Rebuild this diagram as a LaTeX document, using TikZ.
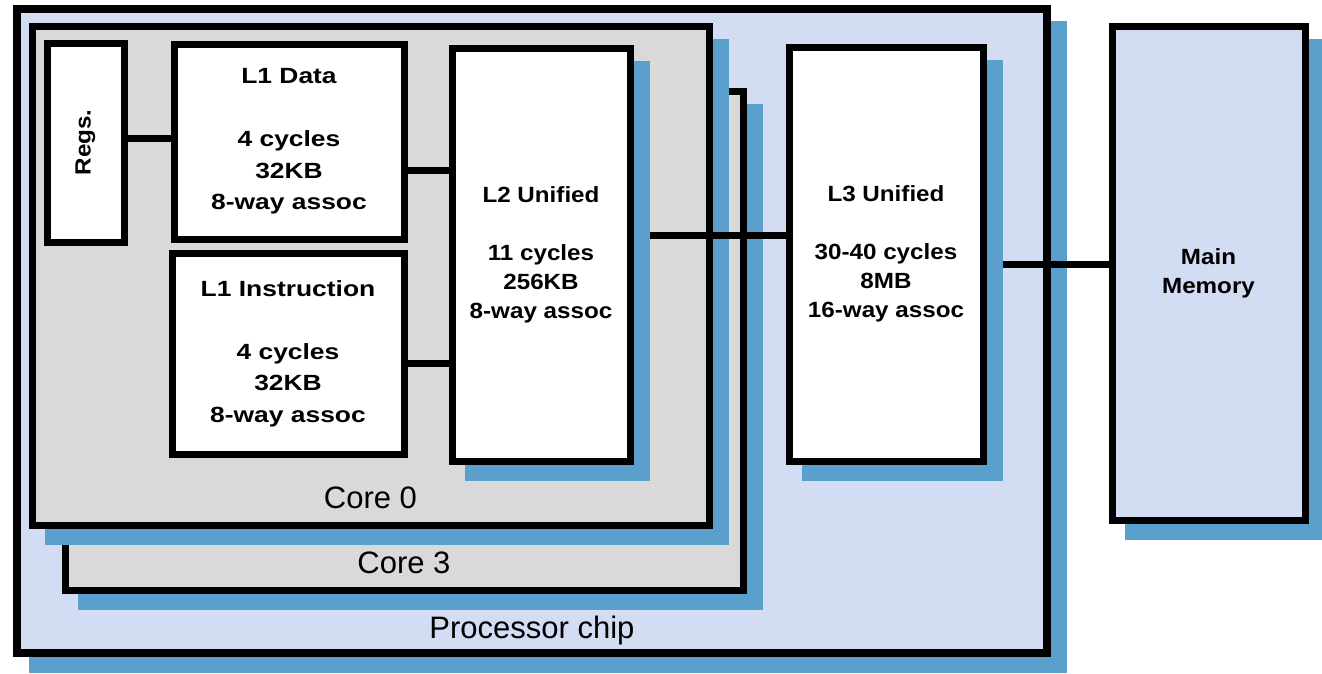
\documentclass[tikz,border=0pt]{standalone}
\usepackage{fontspec}
\setmainfont{Liberation Sans}
\newfontfamily\fa[FakeStretch=1.2]{Liberation Sans}
\newfontfamily\fb[FakeStretch=1.1]{Liberation Sans}
\usetikzlibrary{shadows}
\definecolor{chipblue}{RGB}{210,220,242}
\definecolor{shblue}{RGB}{91,160,204}
\definecolor{coregray}{RGB}{217,217,217}
\pgfdeclarelayer{back}
\pgfdeclarelayer{mid}
\pgfsetlayers{back,mid,main}
\begin{document}
\begin{tikzpicture}[x=1pt,y=-1pt,
  box/.style={draw=black, rectangle, inner sep=0pt, line width=7pt, align=center},
  shd/.style={drop shadow={shadow xshift=16pt, shadow yshift=-16pt, opacity=1, fill=shblue, draw=shblue}},
  link/.style={line width=7pt},
  ftA/.style={font=\fontsize{22}{31.5}\fa\bfseries},
  ftB/.style={font=\fontsize{22}{29}\fb\bfseries},
  lbl/.style={font=\fontsize{31}{31}\selectfont, anchor=base, inner sep=0pt}]
\useasboundingbox (0,0) rectangle (1322,673);
\begin{pgfonlayer}{back}
\fill[white] (0,0) rectangle (1322,673);
\node[box, fill=chipblue, shd, line width=8pt, minimum width=1030pt, minimum height=644pt] (chip) at (532,331) {};
\node[box, fill=coregray, shd, minimum width=678pt, minimum height=499pt] (core3) at (404,340.5) {};
\node[box, fill=coregray, shd, minimum width=677pt, minimum height=499pt] (core0) at (370.5,275.5) {};
\end{pgfonlayer}
\node[box, fill=white, minimum width=77pt, minimum height=199pt] (regs) at (85.5,142.5)
  {\rotatebox{90}{\fontsize{22}{22}\fb\bfseries Regs.}};
\node[box, fill=white, ftA, minimum width=230pt, minimum height=195pt] (l1d) at (289,141.5)
  {L1 Data\\[31.5pt]4 cycles\\32KB\\8-way assoc};
\node[box, fill=white, ftA, minimum width=232pt, minimum height=201pt] (l1i) at (288,353.5)
  {L1 Instruction\\[31.5pt]4 cycles\\32KB\\8-way assoc};
\node[box, fill=white, shd, ftB, minimum width=178pt, minimum height=413pt] (l2) at (541,254.5)
  {L2 Unified\\[29pt]11 cycles\\256KB\\8-way assoc};
\node[box, fill=white, shd, ftB, minimum width=194pt, minimum height=414pt] (l3) at (886,254)
  {L3 Unified\\[29pt]30-40 cycles\\8MB\\16-way assoc};
\node[box, fill=chipblue, shd, ftB, minimum width=193pt, minimum height=494pt] (mem) at (1208.5,273)
  {Main\\Memory};
\begin{pgfonlayer}{mid}
\draw[link] (regs.east |- 0,138) -- (l1d.west |- 0,138);
\draw[link] (l1d.east |- 0,170) -- (l2.west |- 0,170);
\draw[link] (l1i.east |- 0,363) -- (l2.west |- 0,363);
\draw[link] (l2.east |- 0,235) -- (l3.west |- 0,235);
\draw[link] (l3.east |- 0,264) -- (mem.west |- 0,264);
\end{pgfonlayer}
\node[lbl] (core0lbl) at (370.5,508) {Core 0};
\node[lbl] (core3lbl) at (404,573) {Core 3};
\node[lbl] (chiplbl) at (532,638) {Processor chip};
\end{tikzpicture}
\end{document}
